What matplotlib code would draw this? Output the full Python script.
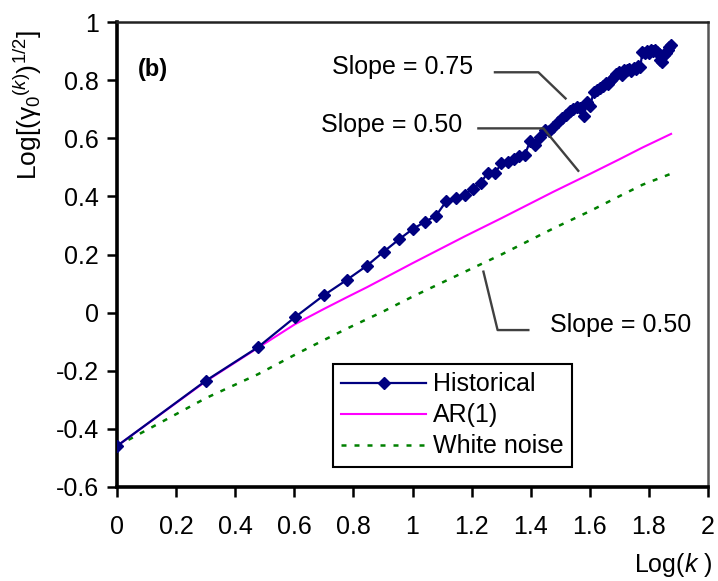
import numpy as np
import matplotlib
matplotlib.use("Agg")
import matplotlib.pyplot as plt

plt.rcParams['font.family'] = ['Liberation Sans', 'DejaVu Sans']
plt.rcParams['mathtext.fontset'] = 'custom'
plt.rcParams['mathtext.rm'] = 'Liberation Sans'
plt.rcParams['mathtext.it'] = 'Liberation Sans:italic'
plt.rcParams['mathtext.bf'] = 'Liberation Sans:bold'

# ---- data ----
k_hist = list(range(1, 76))
y_hist = [-0.459, -0.234, -0.119, -0.016, 0.059, 0.113, 0.161, 0.210, 0.252, 0.287,
          0.312, 0.333, 0.383, 0.394, 0.406, 0.426, 0.446, 0.482, 0.479, 0.514,
          0.519, 0.530, 0.540, 0.543, 0.590, 0.577, 0.604, 0.630, 0.625, 0.640,
          0.655, 0.668, 0.680, 0.693, 0.700, 0.706, 0.703, 0.675, 0.725, 0.712,
          0.760, 0.766, 0.772, 0.780, 0.790, 0.785, 0.800, 0.812, 0.820, 0.828,
          0.818, 0.835, 0.835, 0.840, 0.832, 0.843, 0.838, 0.847, 0.845, 0.898,
          0.892, 0.900, 0.895, 0.903, 0.900, 0.905, 0.898, 0.890, 0.870, 0.862,
          0.885, 0.895, 0.905, 0.915, 0.922]

k_ar = [1, 2, 3, 4, 5, 6, 7, 8, 10, 15, 20, 30, 40, 50, 60, 75]
y_ar = [-0.459, -0.236, -0.121, -0.040, 0.012, 0.053, 0.087, 0.118, 0.170, 0.262,
        0.325, 0.416, 0.478, 0.527, 0.568, 0.615]

k_wn = [1, 2, 3, 4, 5, 6, 8, 10, 15, 20, 30, 40, 50, 60, 75]
y_wn = [-0.459, -0.294, -0.212, -0.145, -0.095, -0.055, 0.005, 0.055, 0.140, 0.200,
        0.290, 0.350, 0.400, 0.440, 0.478]

series_labels = ['Historical', 'AR(1)', 'White noise']
x_ticks = [0, 0.2, 0.4, 0.6, 0.8, 1, 1.2, 1.4, 1.6, 1.8, 2]
x_tick_labels = ['0', '0.2', '0.4', '0.6', '0.8', '1', '1.2', '1.4', '1.6', '1.8', '2']
y_ticks = [-0.6, -0.4, -0.2, 0, 0.2, 0.4, 0.6, 0.8, 1]
y_tick_labels = ['-0.6', '-0.4', '-0.2', '0', '0.2', '0.4', '0.6', '0.8', '1']

W, H = 718, 581
fig = plt.figure(figsize=(W / 100, H / 100), dpi=100)
ax = fig.add_axes([117 / W, 1 - 487 / H, (708 - 117) / W, (487 - 22) / H])

fs = 18
ax.plot(np.log10(k_hist), y_hist, color='#000080', lw=1.6, marker='D', ms=6.3,
        label=series_labels[0], zorder=4)
ax.plot(np.log10(k_ar), y_ar, color='#FF00FF', lw=1.5, label=series_labels[1], zorder=3)
ax.plot(np.log10(k_wn), y_wn, color='#008000', lw=1.8, dashes=(2, 3.2),
        label=series_labels[2], zorder=2)

ax.set_xlim(0, 2)
ax.set_ylim(-0.6, 1)
ax.set_xticks(x_ticks)
ax.set_xticklabels(x_tick_labels)
ax.set_yticks(y_ticks)
ax.set_yticklabels(y_tick_labels)
ax.tick_params(axis='both', direction='out', length=7, width=1.8, labelsize=fs,
               color='black')
ax.tick_params(axis='x', pad=13)
ax.tick_params(axis='y', pad=6)

for side in ['left', 'bottom']:
    ax.spines[side].set_linewidth(2.6)
    ax.spines[side].set_color('black')
ax.spines['top'].set_linewidth(1.8)
ax.spines['top'].set_color('#222222')
ax.spines['right'].set_linewidth(1.8)
ax.spines['right'].set_color('#555555')

# annotations
lc = '#404040'
ax.plot([1.279, 1.426, 1.518], [0.827, 0.827, 0.737], color=lc, lw=1.7, zorder=5)
ax.plot([1.223, 1.443, 1.561], [0.634, 0.634, 0.488], color=lc, lw=1.7, zorder=5)
ax.plot([1.240, 1.288, 1.392], [0.141, -0.060, -0.060], color=lc, lw=1.7, zorder=5)
ax.text(1.205, 0.845, 'Slope = 0.75', fontsize=fs, ha='right', va='center')
ax.text(1.1675, 0.646, 'Slope = 0.50', fontsize=fs, ha='right', va='center')
ax.text(1.465, -0.043, 'Slope = 0.50', fontsize=fs, ha='left', va='center')
ax.text(0.071, 0.835, '(b)', fontsize=fs - 1, fontweight='bold', ha='left', va='center')

leg = ax.legend(loc='lower left', bbox_to_anchor=(0.365, 0.043), fontsize=fs,
                frameon=True, fancybox=False, edgecolor='black', framealpha=1,
                handlelength=3.4, handletextpad=0.25, labelspacing=0.28,
                borderpad=0.35, borderaxespad=0)
leg.get_frame().set_linewidth(1.5)

fig.text(28 / W, 1 - 30 / H,
         r'Log[(γ$_\mathregular{0}$$^{(k)}$)$^\mathregular{1/2}$]',
         rotation=90, ha='center', va='top', fontsize=fs + 1)
fig.text(712 / W, 1 - 565 / H, r'Log($k$ )', ha='right', va='center', fontsize=fs)

fig.savefig('out.png', dpi=100)
